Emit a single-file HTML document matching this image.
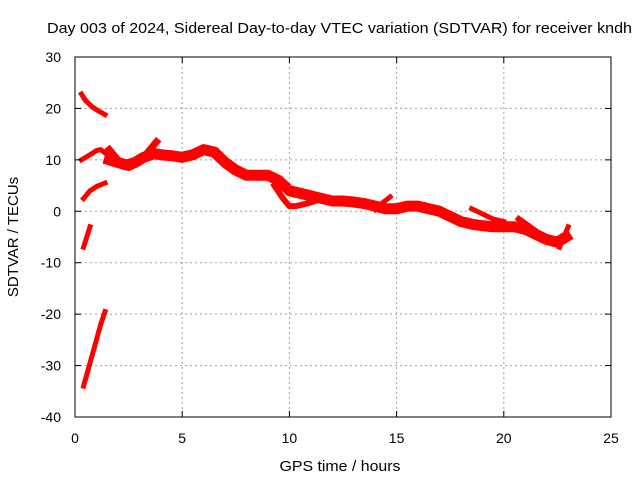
<!DOCTYPE html>
<html><head><meta charset="utf-8"><style>
body{margin:0;background:#fff;}
svg{display:block;font-family:"Liberation Sans",sans-serif;}
</style></head><body>
<svg id="chart" width="640" height="480">
<text x="47" y="33" font-size="15" textLength="585" lengthAdjust="spacingAndGlyphs">Day 003 of 2024, Sidereal Day-to-day VTEC variation (SDTVAR) for receiver kndh</text>
<text x="340" y="471" text-anchor="middle" font-size="15" textLength="121" lengthAdjust="spacingAndGlyphs">GPS time / hours</text>
<text transform="translate(18,237) rotate(-90)" text-anchor="middle" font-size="15">SDTVAR / TECUs</text>
<g id="grid"></g><g id="series"></g><g id="axes"></g>
</svg>
<script>
const xTicks=[0,5,10,15,20,25];
const yTicks=[30,20,10,0,-10,-20,-30,-40];
const arcAH=[0.3,0.5,0.8,1.1,1.4];
const arcAV=[22.8,21.5,20.3,19.5,18.8];
const arcBH=[0.3,0.7,1.0,1.2,1.5];
const arcBV=[10,11,11.8,12,11];
const arcCH=[0.4,0.7,1.0,1.4];
const arcCV=[2.5,4,4.8,5.5];
const arcDH=[0.4,0.55,0.7];
const arcDV=[-7,-5,-3];
const arcEH=[0.4,0.6,0.8,1.0,1.2,1.4];
const arcEV=[-34,-31,-28,-25,-22,-19.5];
const mainH=[1.6,2.0,2.4,2.8,3.2,3.7,4.0,4.5,5.0,5.5,6.0,6.5,7.0,7.5,8.0,8.5,9.0,9.5,10.0,10.5,11.0,11.5,12.0,12.5,13.0,13.5,14.0,14.5,15.0,15.5,16.0,16.5,17.0,17.5,18.0,18.5,19.0,19.5,20.0,20.5,21.0,21.5,22.0,22.5,22.9];
const mainV=[10,9.5,9,9.5,10.5,11.2,11,10.8,10.5,11,12,11.5,9.5,8,7,7,7,6,4,3.5,3,2.5,2,2,1.8,1.5,1,0.5,0.5,1,1,0.5,0,-1,-2,-2.5,-2.8,-3,-3,-3,-3.5,-4.5,-5.5,-6,-5];
const branch1H=[1.6,2.0,2.5,3.0,3.5,3.8];
const branch1V=[12,10,8.5,9.5,12,13.5];
const branch2H=[9.3,9.7,10.0,10.3,10.8,11.2];
const branch2V=[5,2.5,1,1,1.5,2];
const branch3H=[14.0,14.3,14.7];
const branch3V=[0.3,1.5,2.8];
const branch4H=[18.5,19.0,19.5,20.0];
const branch4V=[0.5,-0.5,-1.5,-2];
const branch5H=[20.7,21.2,21.7,22.2];
const branch5V=[-1.5,-3,-4.5,-5.5];
const branch6H=[22.6,22.8,23.0];
const branch6V=[-7,-5,-3];
const X0=75,X1=611,Y0=57,Y1=417;
const sx=h=>X0+(h-0)/25*(X1-X0);
const sy=v=>Y0+(30-v)/70*(Y1-Y0);
const NS="http://www.w3.org/2000/svg";
const grid=document.getElementById('grid'),axes=document.getElementById('axes'),ser=document.getElementById('series');
function mk(t,a,p){const e=document.createElementNS(NS,t);for(const k in a)e.setAttribute(k,a[k]);p.appendChild(e);return e;}
xTicks.forEach(t=>{const x=sx(t);
 if(t>0&&t<25){const g=mk('line',{x1:x,x2:x,y1:Y0,y2:Y1,stroke:'#a0a0a0','stroke-dasharray':'2,3'},grid);
 
 }
 mk('line',{x1:x,x2:x,y1:Y1,y2:Y1-6,stroke:'#000'},axes);mk('line',{x1:x,x2:x,y1:Y0,y2:Y0+6,stroke:'#000'},axes);
 const l=mk('text',{x:x,y:443,'text-anchor':'middle','font-size':14},axes);l.textContent=t;
 
 });
yTicks.forEach(t=>{const y=sy(t);
 if(t<30&&t>-40){const g=mk('line',{x1:X0,x2:X1,y1:y,y2:y,stroke:'#a0a0a0','stroke-dasharray':'2,3'},grid);
 
 }
 mk('line',{x1:X0,x2:X0+6,y1:y,y2:y,stroke:'#000'},axes);mk('line',{x1:X1,x2:X1-6,y1:y,y2:y,stroke:'#000'},axes);
 const l=mk('text',{x:X0-14,y:y+5,'text-anchor':'end','font-size':14},axes);l.textContent=t;
 
 });
const frame=mk('rect',{x:X0,y:Y0,width:X1-X0,height:Y1-Y0,fill:'none',stroke:'#000'},axes);


function draw(H,V,w,name){const pts=H.map((h,i)=>sx(h)+','+sy(V[i])).join(' ');
 const p=mk('polyline',{points:pts,fill:'none',stroke:'#ff0000','stroke-width':w,'stroke-linejoin':'round','stroke-linecap':'square'},ser);
 
 }
draw(arcAH,arcAV,5,'arc-a');
draw(arcBH,arcBV,5,'arc-b');
draw(arcCH,arcCV,5,'arc-c');
draw(arcDH,arcDV,5,'arc-d');
draw(arcEH,arcEV,5,'arc-e');
draw(mainH,mainV,11,'main-series');
draw(branch1H,branch1V,7,'branch-1');
draw(branch2H,branch2V,6,'branch-2');
draw(branch3H,branch3V,5,'branch-3');
draw(branch4H,branch4V,5,'branch-4');
draw(branch5H,branch5V,6,'branch-5');
draw(branch6H,branch6V,5,'branch-6');
</script>
</body></html>
